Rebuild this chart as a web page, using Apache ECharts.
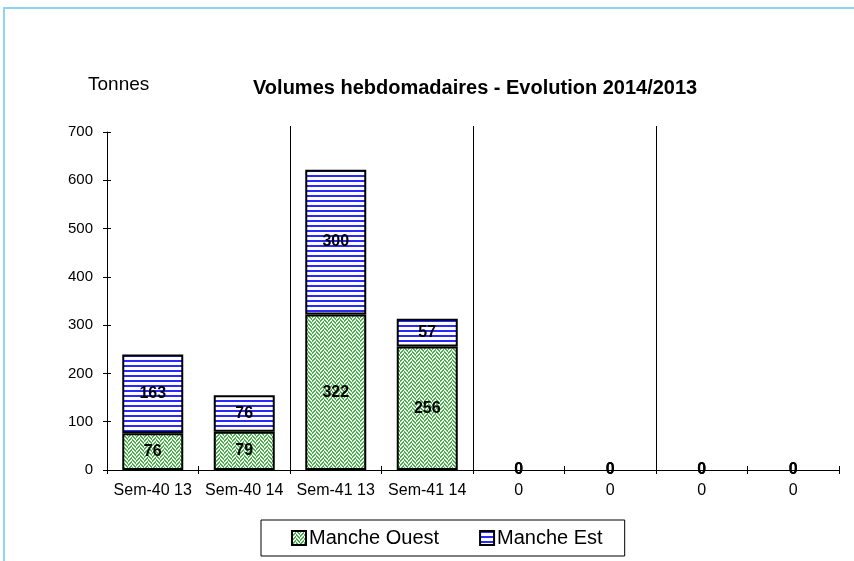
<!DOCTYPE html>
<html>
<head>
<meta charset="utf-8">
<script src="https://cdn.jsdelivr.net/npm/echarts@6/dist/echarts.min.js"></script>
<style>
	html, body { margin: 0; padding: 0; background: #fff; }
	#chart { width: 854px; height: 561px; }
</style>
</head>
<body>
<div id="chart"></div>
<script>
var categories = ['Sem-40 13', 'Sem-40 14', 'Sem-41 13', 'Sem-41 14', '0', '0', '0', '0'];
var mancheOuest = [76, 79, 322, 256, 0, 0, 0, 0];
var mancheEst = [163, 76, 300, 57, 0, 0, 0, 0];
var yTicks = [0, 100, 200, 300, 400, 500, 600, 700];

var FONT = '"Liberation Sans", Arial, sans-serif';

//motif vert (chevrons)
function greenPattern() {
	var c = document.createElement('canvas');
	c.width = 8;
	c.height = 8;
	var ctx = c.getContext('2d');
	ctx.fillStyle = '#f0faf0';
	ctx.fillRect(0, 0, 8, 8);
	ctx.fillStyle = '#4fae4f';
	for (var y = 0; y < 8; y++) {
		for (var x = 0; x < 8; x++) {
			var on = x < 4 ? ((x + y) % 4 < 2) : ((x - y + 8) % 4 < 2);
			if (on) ctx.fillRect(x, y, 1, 1);
		}
	}
	return c;
}

//motif bleu (rayures horizontales)
function bluePattern() {
	var c = document.createElement('canvas');
	c.width = 4;
	c.height = 5;
	var ctx = c.getContext('2d');
	ctx.fillStyle = '#ffffff';
	ctx.fillRect(0, 0, 4, 5);
	ctx.fillStyle = '#2a2aff';
	ctx.fillRect(0, 0, 4, 2);
	return c;
}

//pas de bordure pour les barres nulles
function barData(values) {
	return values.map(function(v) {
		return v === 0 ? { value: v, itemStyle: { borderWidth: 0 } } : v;
	});
}

var labelStyle = {
	show: true,
	position: 'inside',
	color: '#000',
	fontWeight: 'bold',
	fontSize: 16,
	fontFamily: FONT
};

var option = {
	animation: false,
	backgroundColor: '#fff',
	textStyle: { fontFamily: FONT },
	graphic: [{
		type: 'rect',
		shape: { x: 4, y: 8, width: 900, height: 620 },
		style: { fill: 'none', stroke: '#8fd4f0', lineWidth: 2 },
		silent: true
	}],
	title: [{
		text: 'Volumes hebdomadaires - Evolution 2014/2013',
		left: 248,
		top: 73,
		textStyle: { fontSize: 20, fontWeight: 'bold', color: '#000', fontFamily: FONT }
	}, {
		text: 'Tonnes',
		left: 83,
		top: 70,
		textStyle: { fontSize: 19, fontWeight: 'normal', color: '#000', fontFamily: FONT }
	}],
	legend: {
		left: 261,
		top: 520,
		padding: [8, 22, 8, 30],
		borderColor: '#000',
		borderWidth: 1,
		itemWidth: 14,
		itemHeight: 14,
		itemGap: 40,
		icon: 'rect',
		textStyle: { fontSize: 20, color: '#000', fontFamily: FONT, padding: [0, 0, 0, -2] },
		data: ['Manche Ouest', 'Manche Est']
	},
	grid: [{
		left: 107, right: 15, top: 132, bottom: 91
	}, {
		left: 107, right: 15, top: 126, bottom: 91
	}],
	xAxis: [{
		type: 'category',
		gridIndex: 0,
		data: categories,
		axisLine: { lineStyle: { color: '#000', width: 1 } },
		axisTick: { show: true, length: 4, lineStyle: { color: '#000' } },
		axisLabel: { color: '#000', fontSize: 16, margin: 13, interval: 0, fontFamily: FONT },
		splitLine: { show: false }
	}, {
		type: 'category',
		gridIndex: 1,
		data: categories,
		axisLine: { show: false },
		axisTick: { show: true, inside: true, length: 4, interval: 0, lineStyle: { color: '#000' } },
		axisLabel: { show: false },
		splitLine: {
			show: true,
			interval: 0,
			lineStyle: {
				color: ['transparent', 'transparent', '#000', 'transparent', '#000', 'transparent', '#000', 'transparent', 'transparent'],
				width: 1
			}
		}
	}],
	yAxis: [{
		type: 'value',
		gridIndex: 0,
		min: yTicks[0],
		max: yTicks[yTicks.length - 1],
		interval: 100,
		axisLine: { show: true, lineStyle: { color: '#000' } },
		axisTick: { show: true, length: 4, lineStyle: { color: '#000' } },
		axisLabel: { color: '#000', fontSize: 15, margin: 14, fontFamily: FONT },
		splitLine: { show: false }
	}, {
		//graduations intérieures (croisées)
		type: 'value',
		gridIndex: 0,
		position: 'left',
		min: yTicks[0],
		max: yTicks[yTicks.length - 1],
		interval: 100,
		axisLine: { show: false },
		axisTick: { show: true, inside: true, length: 4, lineStyle: { color: '#000' } },
		axisLabel: { show: false },
		splitLine: { show: false }
	}, {
		type: 'value',
		gridIndex: 1,
		show: false,
		splitLine: { show: false }
	}],
	series: [{
		name: 'Manche Ouest',
		type: 'bar',
		stack: 'total',
		barWidth: 61,
		data: barData(mancheOuest),
		itemStyle: {
			color: { image: greenPattern(), repeat: 'repeat' },
			borderColor: '#000',
			borderWidth: 2
		},
		label: labelStyle
	}, {
		name: 'Manche Est',
		type: 'bar',
		stack: 'total',
		barWidth: 61,
		data: barData(mancheEst),
		itemStyle: {
			color: { image: bluePattern(), repeat: 'repeat' },
			borderColor: '#000',
			borderWidth: 2
		},
		label: labelStyle
	}]
};

echarts.init(document.getElementById('chart')).setOption(option);
</script>
</body>
</html>
